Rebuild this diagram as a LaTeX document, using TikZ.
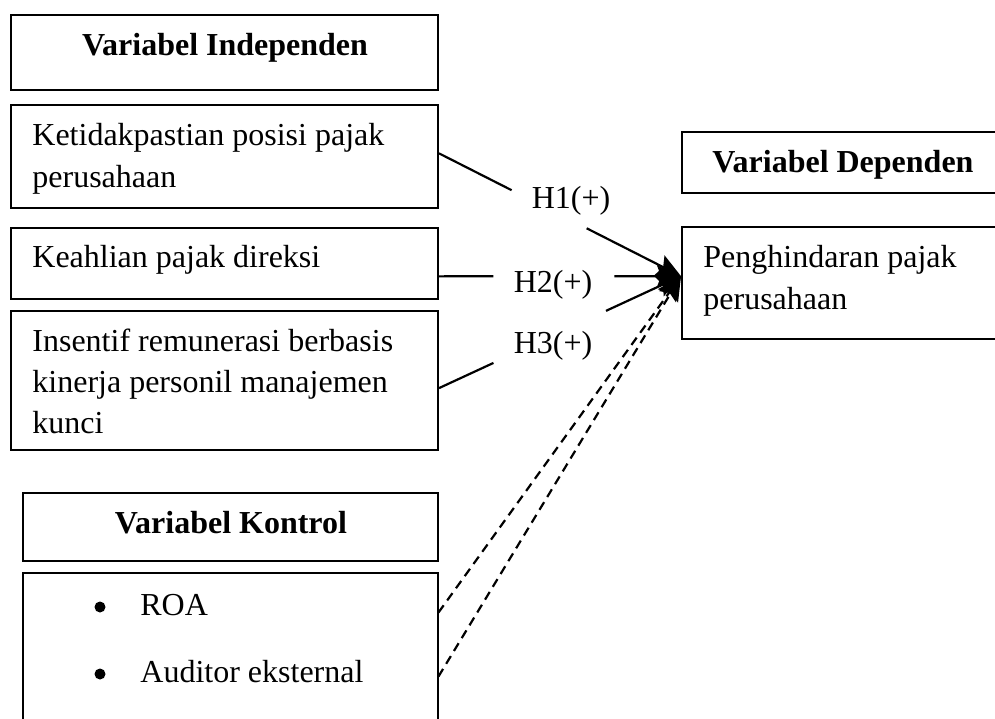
\documentclass[tikz,border=0pt]{standalone}
\usepackage{fontspec}
\setmainfont{Liberation Serif}
\usetikzlibrary{arrows.meta,calc,fit}
\newcommand\fsz{\fontsize{16pt}{20.75pt}\selectfont}
\tikzset{
  box/.style={draw, line width=1pt, inner sep=0pt},
  frame/.style={inner sep=0pt},
  txt/.style={inner sep=0pt, anchor=base west, font=\fsz},
  head/.style={inner sep=0pt, anchor=base, font=\fsz\bfseries},
  lbl/.style={inner sep=0pt, anchor=base, font=\fsz},
  dot/.style={circle, fill, inner sep=0pt, minimum size=5.5pt},
  conn/.style={line width=1.1pt},
  arr/.style={line width=1.1pt, -{Stealth[length=12pt,width=11pt,inset=2pt]}},
  darr/.style={line width=1.1pt, dash pattern=on 4.5pt off 3pt, -{Stealth[length=12pt,width=11pt,inset=2pt]}}
}
\begin{document}
\begin{tikzpicture}[x=0.5pt,y=-0.5pt]
\clip (0,0) rectangle (995,718);
% left column
\node[box, fit={(11,15)(438,90)}] (ih) {};
\node[head] (iht) at (225,55) {Variabel Independen};
\node[box, fit={(11,105)(438,208)}] (k1) {};
\node[txt] (k1a) at (32,145) {Ketidakpastian posisi pajak};
\node[txt] (k1b) at (32,187) {perusahaan};
\node[box, fit={(11,228)(438,299)}] (k2) {};
\node[txt] (k2a) at (32,267) {Keahlian pajak direksi};
\node[box, fit={(11,311)(438,450)}] (k3) {};
\node[txt] (k3a) at (32,351) {Insentif remunerasi berbasis};
\node[txt] (k3b) at (32,392) {kinerja personil manajemen};
\node[txt] (k3c) at (32,433) {kunci};
% control
\node[box, fit={(23,493)(438,561)}] (ch) {};
\node[head] (cht) at (231,533) {Variabel Kontrol};
\node[frame, fit={(23,573)(438,730)}] (ctl) {};
\draw[line width=1pt] (ctl.south west) -- (ctl.north west) -- (ctl.north east) -- (ctl.south east);
\node[dot] (b1) at (100,607) {};
\node[txt] (c1) at (140,615) {ROA};
\node[dot] (b2) at (100,674) {};
\node[txt] (c2) at (140,682) {Auditor eksternal};
% right column
\node[box, fit={(682,132)(1004,193)}] (dh) {};
\node[head] (dht) at (843,172) {Variabel Dependen};
\node[box, fit={(682,227)(1004,339)}] (dv) {};
\node[txt] (dv1) at (703,267) {Penghindaran pajak};
\node[txt] (dv2) at (703,309) {perusahaan};
% connectors
\coordinate (tip) at ($(dv.north west)!0.44!(dv.south west)$);
\coordinate (s1) at ($(k1.north east)!0.47!(k1.south east)$);
\coordinate (s2) at ($(k2.north east)!0.676!(k2.south east)$);
\coordinate (s3) at ($(k3.north east)!0.554!(k3.south east)$);
\coordinate (d1) at ($(ctl.north east)+(0,40)$);
\coordinate (d2) at ($(ctl.north east)+(0,104)$);
\draw[conn] (s1) -- ($(s1)!0.30!(tip)$);
\draw[arr] ($(s1)!0.61!(tip)$) -- (tip);
\draw[conn] (s2) -- ($(s2)!0.225!(tip)$);
\draw[arr] ($(s2)!0.725!(tip)$) -- (tip);
\draw[conn] (s3) -- ($(s3)!0.225!(tip)$);
\draw[arr] ($(s3)!0.69!(tip)$) -- (tip);
\draw[darr] (d1) -- (tip);
\draw[darr] (d2) -- (tip);
\node[lbl] (h1) at (571,208) {H1(+)};
\node[lbl] (h2) at (553,292) {H2(+)};
\node[lbl] (h3) at (553,353) {H3(+)};
\end{tikzpicture}
\end{document}
